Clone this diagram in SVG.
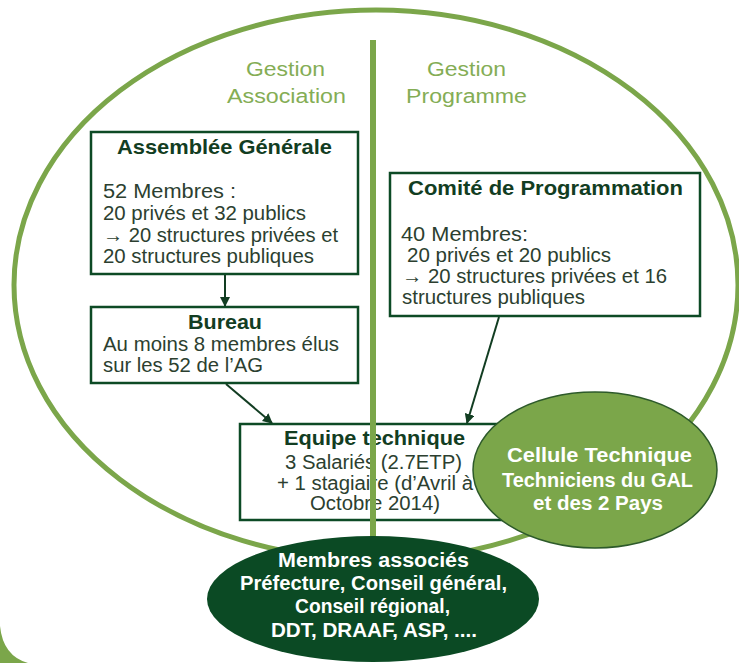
<svg xmlns="http://www.w3.org/2000/svg" width="739" height="663" viewBox="0 0 739 663">
<defs>
<marker id="ah" viewBox="0 0 10 10" refX="9" refY="5" markerWidth="5" markerHeight="5" orient="auto" markerUnits="strokeWidth">
<path d="M0,0 L10,5 L0,10 Z" fill="#123d22"/>
</marker>
<style>
.box{fill:#fff;stroke:#0d4a25;stroke-width:2.5}
.t{font-family:"Liberation Sans",Arial,sans-serif;font-size:20.5px;fill:#123d22;font-weight:bold}
.b{font-family:"Liberation Sans",Arial,sans-serif;font-size:20px;fill:#2c3f30}
.g{font-family:"Liberation Sans",Arial,sans-serif;font-size:20px;fill:#84ad55}
.w{font-family:"Liberation Sans",Arial,sans-serif;font-size:20px;fill:#fff;font-weight:bold}
.conn{stroke:#123d22;stroke-width:2;fill:none;marker-end:url(#ah)}
</style>
</defs>
<rect width="739" height="663" fill="#fff"/>
<path d="M0,626 Q3,656 28,663 L0,663 Z" fill="#7ba64a"/>
<ellipse cx="376" cy="285" rx="362" ry="275" fill="none" stroke="#7ba64a" stroke-width="5"/>

<g id="labels">
<text class="g" x="246" y="76" textLength="79" lengthAdjust="spacingAndGlyphs">Gestion</text>
<text class="g" x="227" y="103" textLength="119" lengthAdjust="spacingAndGlyphs">Association</text>
<text class="g" x="427" y="76" textLength="79" lengthAdjust="spacingAndGlyphs">Gestion</text>
<text class="g" x="406" y="103" textLength="121" lengthAdjust="spacingAndGlyphs">Programme</text>
</g>

<g id="assemblee">
<rect class="box" x="91" y="132" width="267" height="142"/>
<text class="t" x="117" y="154" textLength="215" lengthAdjust="spacingAndGlyphs">Assemblée Générale</text>
<text class="b" x="103" y="198" textLength="133" lengthAdjust="spacingAndGlyphs">52 Membres :</text>
<text class="b" x="103" y="220" textLength="203" lengthAdjust="spacingAndGlyphs">20 privés et 32 publics</text>
<text class="b" x="103" y="242" textLength="235" lengthAdjust="spacingAndGlyphs">→ 20 structures privées et</text>
<text class="b" x="103" y="263" textLength="211" lengthAdjust="spacingAndGlyphs">20 structures publiques</text>
</g>

<g id="bureau">
<rect class="box" x="91" y="307" width="267" height="76"/>
<text class="t" x="188" y="329" textLength="74" lengthAdjust="spacingAndGlyphs">Bureau</text>
<text class="b" x="103" y="351" textLength="236" lengthAdjust="spacingAndGlyphs">Au moins 8 membres élus</text>
<text class="b" x="103" y="372" textLength="160" lengthAdjust="spacingAndGlyphs">sur les 52 de l’AG</text>
</g>

<g id="comite">
<rect class="box" x="390" y="173" width="310" height="143"/>
<text class="t" x="408" y="195" textLength="275" lengthAdjust="spacingAndGlyphs">Comité de Programmation</text>
<text class="b" x="401" y="241" textLength="127" lengthAdjust="spacingAndGlyphs">40 Membres:</text>
<text class="b" x="407" y="262" textLength="204" lengthAdjust="spacingAndGlyphs">20 privés et 20 publics</text>
<text class="b" x="402" y="283" textLength="265" lengthAdjust="spacingAndGlyphs">→ 20 structures privées et 16</text>
<text class="b" x="402" y="304" textLength="183" lengthAdjust="spacingAndGlyphs">structures publiques</text>
</g>

<g id="equipe">
<rect class="box" x="240" y="424" width="280" height="96"/>
<text class="t" x="284" y="445" textLength="181" lengthAdjust="spacingAndGlyphs">Equipe technique</text>
<text class="b" x="285" y="469" textLength="177" lengthAdjust="spacingAndGlyphs">3 Salariés (2.7ETP)</text>
<text class="b" x="277" y="490" textLength="196" lengthAdjust="spacingAndGlyphs">+ 1 stagiaire (d’Avril à</text>
<text class="b" x="310" y="510" textLength="130" lengthAdjust="spacingAndGlyphs">Octobre 2014)</text>
</g>

<line x1="373" y1="40" x2="373" y2="560" stroke="#7ba64a" stroke-width="6"/>

<g id="connectors">
<line class="conn" x1="225" y1="275" x2="225" y2="306"/>
<line class="conn" x1="226" y1="384" x2="272" y2="423"/>
<line class="conn" x1="499" y1="317" x2="467" y2="423"/>
</g>

<g id="cellule">
<ellipse cx="595" cy="470" rx="122" ry="78" fill="#7ba64a" stroke="#2d5a2a" stroke-width="1.5"/>
<text class="w" x="507" y="462" textLength="185" lengthAdjust="spacingAndGlyphs">Cellule Technique</text>
<text class="w" x="502" y="487" textLength="191" lengthAdjust="spacingAndGlyphs">Techniciens du GAL</text>
<text class="w" x="533" y="510" textLength="130" lengthAdjust="spacingAndGlyphs">et des 2 Pays</text>
</g>

<g id="membres">
<ellipse cx="373" cy="599" rx="166" ry="63" fill="#0b4a24"/>
<text class="w" x="278" y="567" textLength="191" lengthAdjust="spacingAndGlyphs">Membres associés</text>
<text class="w" x="240" y="590" textLength="267" lengthAdjust="spacingAndGlyphs">Préfecture, Conseil général,</text>
<text class="w" x="295" y="613" textLength="155" lengthAdjust="spacingAndGlyphs">Conseil régional,</text>
<text class="w" x="271" y="637" textLength="206" lengthAdjust="spacingAndGlyphs">DDT, DRAAF, ASP, ....</text>
</g>
</svg>
